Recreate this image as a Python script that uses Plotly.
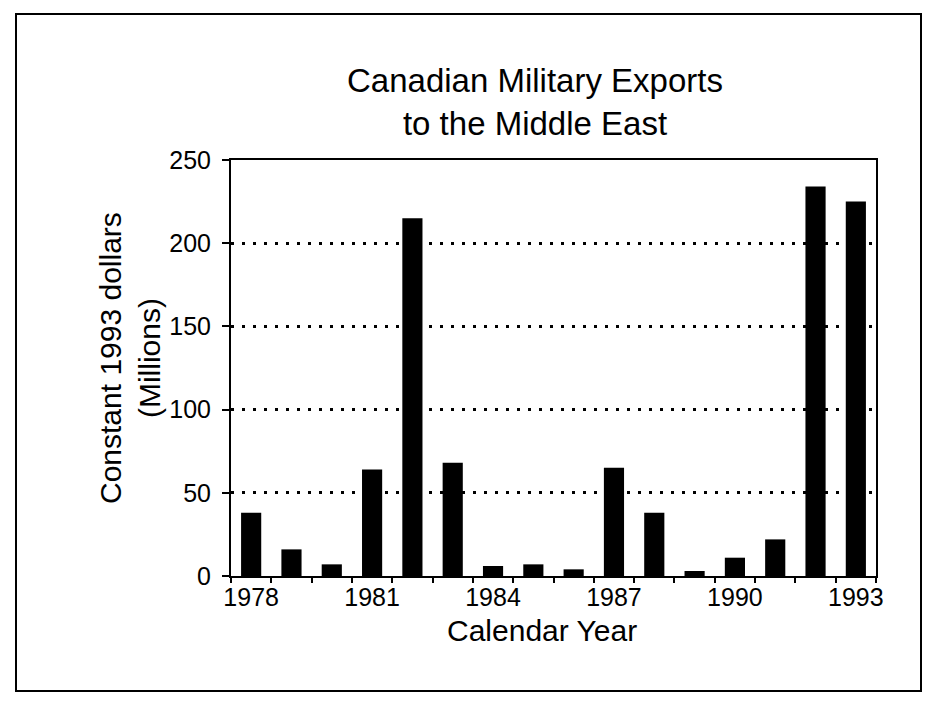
import plotly.graph_objects as go

years = ["1978", "1979", "1980", "1981", "1982", "1983", "1984", "1985",
         "1986", "1987", "1988", "1989", "1990", "1991", "1992", "1993"]
exports = [38, 16, 7, 64, 215, 68, 6, 7, 4, 65, 38, 3, 11, 22, 234, 225]
labeled_years = ["1978", "1981", "1984", "1987", "1990", "1993"]
y_ticks = [0, 50, 100, 150, 200, 250]

tick_text = [y if y in labeled_years else "" for y in years]

FONT = "Liberation Sans, Arial, Helvetica, sans-serif"

fig = go.Figure()
fig.add_trace(go.Bar(
    x=years, y=exports,
    marker=dict(color="black", line=dict(width=0)),
    width=0.5,
    showlegend=False,
))

# the page body adds an 8px offset; figure coordinates below are page - 8
W, H = 916, 699
L, R, T, B = 223, 48, 152, 131
pw, ph = W - L - R, H - T - B

def px_x(p):
    return (p - L) / pw

def px_y(p):
    return (H - B - p) / ph

fig.add_shape(type="rect", xref="paper", yref="paper",
              x0=px_x(8), x1=px_x(913), y0=px_y(683), y1=px_y(6),
              line=dict(color="black", width=2), fillcolor="rgba(0,0,0,0)")

fig.add_annotation(
    text="Constant 1993 dollars<br>(Millions)",
    xref="paper", yref="paper", x=px_x(122), y=px_y(350),
    xanchor="center", yanchor="middle", textangle=-90,
    showarrow=False, font=dict(size=30, family=FONT, color="black"),
)
fig.add_annotation(
    text="Calendar Year",
    xref="paper", yref="paper", x=px_x(534), y=px_y(622),
    xanchor="center", yanchor="middle",
    showarrow=False, font=dict(size=30, family=FONT, color="black"),
)

fig.update_layout(
    width=W, height=H,
    margin=dict(l=L, r=R, t=T, b=B),
    paper_bgcolor="white", plot_bgcolor="white",
    font=dict(family=FONT, color="black", size=24),
    title=dict(
        text="Canadian Military Exports<br>to the Middle East",
        x=527 / W, xanchor="center",
        y=1 - 84 / H, yanchor="top",
        font=dict(size=33, family=FONT, color="black"),
    ),
    bargap=0.5,
    xaxis=dict(
        type="category",
        categoryorder="array", categoryarray=years,
        tickvals=years, ticktext=tick_text,
        tickson="boundaries", tickangle=0,
        ticks="outside", ticklen=5, tickwidth=2, tickcolor="black",
        showline=True, linecolor="black", linewidth=2, mirror=True,
        showgrid=False,
        tickfont=dict(size=25),
        ticklabelstandoff=-2,
        range=[-0.5, 15.5],
    ),
    yaxis=dict(
        range=[0, 250],
        tickvals=y_ticks,
        ticks="outside", ticklen=7, tickwidth=2, tickcolor="black",
        showline=True, linecolor="black", linewidth=2, mirror=True,
        showgrid=True, gridcolor="black", gridwidth=2.5, griddash="3px,8px",
        zeroline=False,
        tickfont=dict(size=25),
        ticklabelstandoff=6,
    ),
)

fig.write_html("out.html")
